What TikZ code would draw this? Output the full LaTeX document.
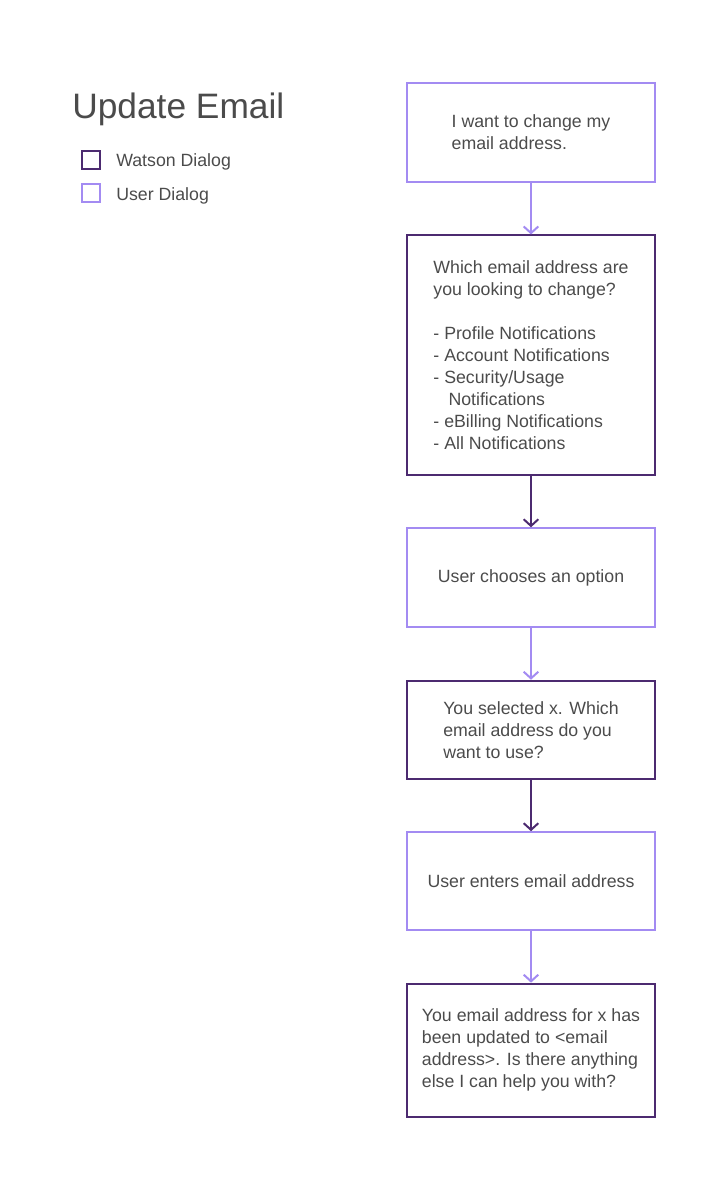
\documentclass[tikz,border=0pt]{standalone}
\usepackage{fontspec}
\setmainfont{Liberation Sans}
\usetikzlibrary{arrows.meta,positioning}
\definecolor{watsonpurple}{RGB}{76,42,112}
\definecolor{userpurple}{RGB}{163,139,242}
\definecolor{textgray}{RGB}{75,75,75}
\tikzstyle{line} = [draw, line width=1.5pt, -{Straight Barb[length=5pt,width=11pt]}]
\tikzstyle{user} = [draw=userpurple, line width=1.5pt, rectangle, align=left, minimum width=186pt, minimum height=74.25pt]
\tikzstyle{watson} = [draw=watsonpurple, line width=1.5pt, rectangle, align=left, minimum width=186pt, minimum height=74.25pt]
\tikzstyle{key} = [rectangle, line width=1.5pt, minimum size=13.5pt, inner sep=0pt]

\begin{document}
\begin{tikzpicture}[x=0.75pt, y=-0.75pt, node distance=38.6pt,
    every node/.style={text=textgray, font=\fontsize{13.3}{16.5}\selectfont}]
        \useasboundingbox (0,0) rectangle (720,1180);
        % title and legend
        \node[anchor=base west, inner sep=0pt, font=\fontsize{26.5}{30}\selectfont] (title) at (72,119) {Update Email};
        \node[key, draw=watsonpurple] (keywatson) at (90.5,160) {};
        \node[key, draw=userpurple] (keyuser) at (90.5,193) {};
        \node[anchor=west, inner sep=0pt] (watsonlabel) at (116,161.5) {Watson Dialog};
        \node[anchor=west, inner sep=0pt] (userlabel) at (116,195.5) {User Dialog};
        % dialog flow
        \node[user] (change) at (531,132.5) {I want to change my\\email address.};
        \node[watson, below=of change, minimum height=179.5pt] (which) {Which email address are\\you looking to change?\\[16.5pt]- Profile Notifications\\- Account Notifications\\- Security/Usage\\\hspace*{0.85em}Notifications\\- eBilling Notifications\\- All Notifications};
        \node[user, below=of which] (choose) {User chooses an option};
        \node[watson, below=of choose, minimum height=73.5pt] (selected) {You selected x. Which\\email address do you\\want to use?};
        \node[user, below=of selected, minimum height=73.5pt] (enter) {User enters email address};
        \node[watson, below=of enter, minimum height=99.75pt] (updated) {You email address for x has\\been updated to <email\\address>. Is there anything\\else I can help you with?};
        \path[line, userpurple] (change) -- (which);
        \path[line, watsonpurple] (which) -- (choose);
        \path[line, userpurple] (choose) -- (selected);
        \path[line, watsonpurple] (selected) -- (enter);
        \path[line, userpurple] (enter) -- (updated);
\end{tikzpicture}
\end{document}
